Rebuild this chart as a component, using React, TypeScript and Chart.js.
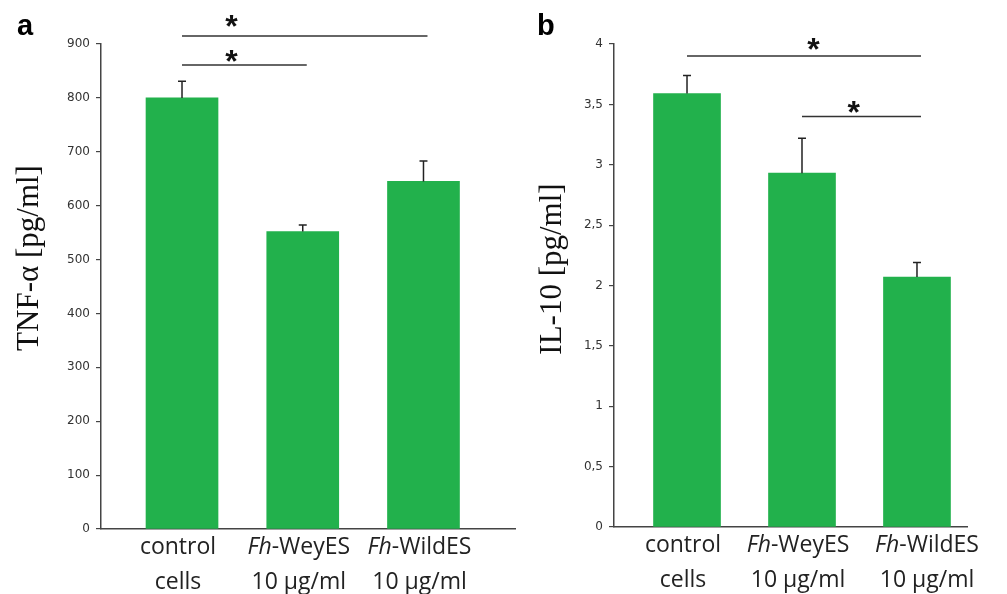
import React, { useEffect, useRef } from "react";
import { Chart, registerables } from "chart.js";
Chart.register(...registerables);

// ---- data ----
const categories: string[][] = [
  ["control", "cells"],
  ["Fh-WeyES", "10 μg/ml"],
  ["Fh-WildES", "10 μg/ml"],
];
const tnfValues = [800, 552, 645];
const tnfErrors = [31, 12, 38];
const il10Values = [3.59, 2.93, 2.07];
const il10Errors = [0.15, 0.29, 0.12];
const tnfTicks = [0, 100, 200, 300, 400, 500, 600, 700, 800, 900];
const il10Ticks = [0, 0.5, 1, 1.5, 2, 2.5, 3, 3.5, 4];
// significance: from category, to category, line level, star position (category units), star level
const tnfSigFrom = [0, 0];
const tnfSigTo = [2, 1];
const tnfSigLevel = [915, 861];
const tnfStarAt = [0.41, 0.41];
const tnfStarLevel = [942, 877];
const il10SigFrom = [0, 1];
const il10SigTo = [2, 2];
const il10SigLevel = [3.9, 3.4];
const il10StarAt = [1.1, 1.45];
const il10StarLevel = [4.0, 3.48];

const GREEN = "#22B14C";
const AXIS = "#444";

type PanelCfg = {
  letter: string;
  letterX: number;
  title: string;
  titleX: number;
  titleY: number;
  values: number[];
  errors: number[];
  ticks: number[];
  comma: boolean;
  sigFrom: number[];
  sigTo: number[];
  sigLevel: number[];
  starAt: number[];
  starLevel: number[];
  padLeft: number;
  padRight: number;
  padBottom: number;
  xMin: number;
  xMax: number;
  barW: number;
  labelShift: number;
};

function makeChart(canvas: HTMLCanvasElement, p: PanelCfg) {
  const overlay = {
    id: "overlay" + p.letter,
    afterDatasetsDraw(chart: any) {
      const ctx = chart.ctx as CanvasRenderingContext2D;
      const xs = chart.scales.x;
      const ys = chart.scales.y;
      ctx.save();
      // error bars
      ctx.strokeStyle = "#222";
      ctx.lineWidth = 1.5;
      p.values.forEach((v, i) => {
        const x = xs.getPixelForValue(i);
        const y0 = ys.getPixelForValue(v);
        const y1 = ys.getPixelForValue(v + p.errors[i]);
        ctx.beginPath();
        ctx.moveTo(x, y0);
        ctx.lineTo(x, y1);
        ctx.moveTo(x - 4, y1);
        ctx.lineTo(x + 4, y1);
        ctx.stroke();
      });
      // significance lines
      ctx.strokeStyle = "#333";
      ctx.lineWidth = 1.5;
      p.sigFrom.forEach((f, i) => {
        const y = ys.getPixelForValue(p.sigLevel[i]);
        ctx.beginPath();
        ctx.moveTo(xs.getPixelForValue(f), y);
        ctx.lineTo(xs.getPixelForValue(p.sigTo[i]) + 4, y);
        ctx.stroke();
        ctx.fillStyle = "#111";
        ctx.font = 'bold 32px "Liberation Sans"';
        ctx.textAlign = "center";
        ctx.textBaseline = "alphabetic";
        const sy = ys.getPixelForValue(p.starLevel[i]);
        ctx.fillText("*", xs.getPixelForValue(p.starAt[i]), sy + 16);
      });
      // x labels
      const bottom = chart.chartArea.bottom;
      ctx.fillStyle = "#222";
      ctx.textBaseline = "alphabetic";
      ctx.textAlign = "left";
      categories.forEach((lines, i) => {
        const cx = xs.getPixelForValue(i) - 4 + (i === 2 ? p.labelShift : 0);
        lines.forEach((line, li) => {
          const by = bottom + 25 + li * 35;
          let italic = "";
          let rest = line;
          if (line.startsWith("Fh")) {
            italic = "Fh";
            rest = line.slice(2);
          }
          ctx.font = 'italic 23px "Open Sans"';
          const wi = italic ? ctx.measureText(italic).width : 0;
          ctx.font = '23px "Open Sans"';
          const wr = ctx.measureText(rest).width;
          let x = cx - (wi + wr) / 2;
          if (italic) {
            ctx.font = 'italic 23px "Open Sans"';
            ctx.fillText(italic, x, by);
            x += wi;
          }
          ctx.font = '23px "Open Sans"';
          ctx.fillText(rest, x, by);
        });
      });
      // panel letter
      ctx.font = 'bold 29px "Liberation Sans"';
      ctx.fillStyle = "#000";
      ctx.fillText(p.letter, p.letterX, 35);
      // y title
      ctx.translate(p.titleX, p.titleY);
      ctx.rotate(-Math.PI / 2);
      ctx.textAlign = "center";
      ctx.textBaseline = "middle";
      ctx.font = '31px "Liberation Serif"';
      ctx.fillStyle = "#111";
      ctx.fillText(p.title, 0, 0);
      ctx.restore();
    },
  };

  return new Chart(canvas, {
    type: "bar",
    data: {
      datasets: [
        {
          data: p.values.map((v, i) => ({ x: i, y: v })),
          backgroundColor: GREEN,
          borderWidth: 0,
          barThickness: p.barW,
        } as any,
      ],
    },
    options: {
      responsive: false,
      animation: false,
      layout: { padding: { left: 0, right: p.padRight, top: 44, bottom: p.padBottom } },
      plugins: { legend: { display: false }, tooltip: { enabled: false } },
      scales: {
        x: {
          type: "linear",
          offset: false,
          grace: 0,
          min: p.xMin,
          max: p.xMax,
          ticks: { display: false },
          grid: { display: false, offset: false },
          border: { display: true, color: AXIS, width: 1.5 },
          afterFit: (s: any) => {
            s.height = 0;
          },
        },
        y: {
          min: 0,
          max: p.ticks[p.ticks.length - 1],
          afterBuildTicks: (s: any) => {
            s.ticks = p.ticks.map((v) => ({ value: v }));
          },
          ticks: {
            color: "#333",
            font: { family: "DejaVu Sans", size: 12 },
            padding: 6,
            callback: (v: any) => (p.comma ? String(v).replace(".", ",") : String(v)),
          },
          grid: { drawOnChartArea: false, color: AXIS, tickLength: 5, lineWidth: 1.2 },
          border: { display: true, color: AXIS, width: 1.5 },
          afterFit: (s: any) => {
            s.width = p.padLeft;
          },
        },
      },
    } as any,
    plugins: [overlay],
  });
}

export default function App() {
  const leftRef = useRef<HTMLCanvasElement>(null);
  const rightRef = useRef<HTMLCanvasElement>(null);
  useEffect(() => {
    const a = makeChart(leftRef.current!, {
      letter: "a",
      letterX: 17,
      title: "TNF-α [pg/ml]",
      titleX: 30,
      titleY: 258,
      values: tnfValues,
      errors: tnfErrors,
      ticks: tnfTicks,
      comma: false,
      sigFrom: tnfSigFrom,
      sigTo: tnfSigTo,
      sigLevel: tnfSigLevel,
      starAt: tnfStarAt,
      starLevel: tnfStarLevel,
      padLeft: 101,
      padRight: 1007 - 515,
      padBottom: 594 - 529,
      xMin: -0.671,
      xMax: 2.758,
      barW: 72,
      labelShift: 0,
    });
    const b = makeChart(rightRef.current!, {
      letter: "b",
      letterX: 537,
      title: "IL-10 [pg/ml]",
      titleX: 553,
      titleY: 269,
      values: il10Values,
      errors: il10Errors,
      ticks: il10Ticks,
      comma: true,
      sigFrom: il10SigFrom,
      sigTo: il10SigTo,
      sigLevel: il10SigLevel,
      starAt: il10StarAt,
      starLevel: il10StarLevel,
      padLeft: 614,
      padRight: 1007 - 967,
      padBottom: 594 - 527,
      xMin: -0.635,
      xMax: 2.435,
      barW: 67,
      labelShift: 14,
    });
    return () => {
      a.destroy();
      b.destroy();
    };
  }, []);
  return (
    <div style={{ position: "absolute", left: 0, top: 0, width: 1007, height: 594, background: "#fff" }}>
      <canvas ref={leftRef} width={1007} height={594} style={{ position: "absolute", left: 0, top: 0 }} />
      <canvas ref={rightRef} width={1007} height={594} style={{ position: "absolute", left: 0, top: 0 }} />
    </div>
  );
}
